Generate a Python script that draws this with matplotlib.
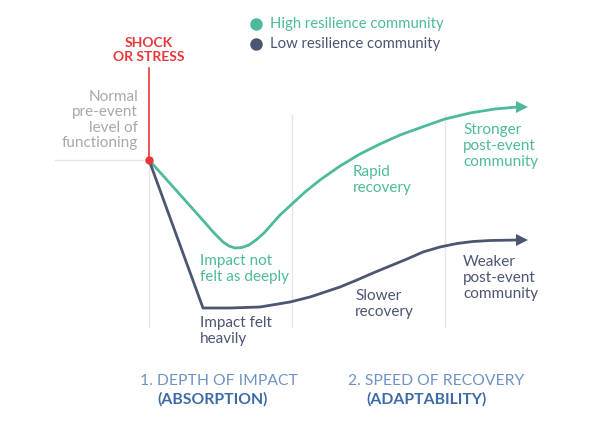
import matplotlib
matplotlib.use('Agg')
import matplotlib.pyplot as plt

# conceptual axes: time (left -> right) and functioning level (top = better)
high_t = [149, 175, 200, 215, 223, 229, 235, 242, 249, 256, 264, 272, 280, 292, 305,
          320, 340, 360, 380, 400, 425, 445, 470, 495, 518]
high_lvl = [160, 189, 217, 234, 242, 246, 248, 247.5, 245, 240, 233, 224, 215, 204, 192,
            180, 166, 154, 144, 135, 126, 119, 113, 109, 107]

low_t = [149, 203, 230, 260, 290, 310, 325, 340, 357, 373, 390, 407, 423, 440, 457,
         473, 490, 518]
low_lvl = [160, 308, 308, 307, 302, 297, 292, 287, 280, 273, 266, 259, 252, 247, 243.5,
           241.5, 240.5, 240]

event_t = 149
baseline_lvl = 160
phase_bounds = [149, 292, 445]

TEAL = '#4dba9c'
DARK = '#4b5671'
RED = '#e8363a'
GREY_TXT = '#a8a8a8'
GRID = '#e6e6e6'
BLUE_LIGHT = '#6f93c4'
BLUE = '#3d6aa6'

plt.rcParams['font.family'] = ['Lato', 'DejaVu Sans']

fig = plt.figure(figsize=(6.03, 4.32), dpi=100)
ax = fig.add_axes([0, 0, 1, 1])
ax.set_xlim(0, 603)
ax.set_ylim(432, 0)
ax.axis('off')

# guide lines
ax.plot([55, event_t], [baseline_lvl, baseline_lvl], color=GRID, lw=1, zorder=1)
ax.plot([phase_bounds[0]] * 2, [baseline_lvl, 327], color=GRID, lw=1, zorder=1)
for b in phase_bounds[1:]:
    ax.plot([b, b], [115, 327], color=GRID, lw=1, zorder=1)

# shock marker
ax.plot([event_t, event_t], [68, baseline_lvl], color=RED, lw=1.2, zorder=2)

# curves
ax.plot(high_t, high_lvl, color=TEAL, lw=2, solid_capstyle='round',
        solid_joinstyle='round', zorder=3)
ax.plot(low_t, low_lvl, color=DARK, lw=2, solid_capstyle='round',
        solid_joinstyle='round', zorder=3)
ax.plot(high_t[-1] + 4, high_lvl[-1], marker='>', color=TEAL, ms=8, mew=0, zorder=4)
ax.plot(low_t[-1] + 4, low_lvl[-1], marker='>', color=DARK, ms=8, mew=0, zorder=4)
ax.plot(event_t, baseline_lvl, 'o', color=RED, ms=6, mew=0, zorder=5)

# legend
ax.plot(256, 24, 'o', color=TEAL, ms=9, mew=0)
ax.plot(256, 44, 'o', color=DARK, ms=9, mew=0)
ax.text(270, 24, 'High resilience community', color=TEAL, fontsize=10.7, va='center')
ax.text(270, 44, 'Low resilience community', color=DARK, fontsize=10.7, va='center')

fs = 11
ls = 1.15
ax.text(event_t, 50, 'SHOCK\nOR STRESS', color=RED, fontsize=10, fontweight='bold',
        ha='center', va='center', linespacing=1.25)
ax.text(138, 120, 'Normal\npre-event\nlevel of\nfunctioning', color=GREY_TXT, fontsize=fs,
        ha='right', va='center', linespacing=ls)
ax.text(353, 180, 'Rapid\nrecovery', color=TEAL, fontsize=fs, va='center', linespacing=ls)
ax.text(463, 146, 'Stronger\npost-event\ncommunity', color=TEAL, fontsize=fs,
        va='center', linespacing=ls)
ax.text(200, 269, 'Impact not\nfelt as deeply', color=TEAL, fontsize=fs, va='center',
        linespacing=ls)
ax.text(200, 331, 'Impact felt\nheavily', color=DARK, fontsize=fs, va='center',
        linespacing=ls)
ax.text(355, 304, 'Slower\nrecovery', color=DARK, fontsize=fs, va='center', linespacing=ls)
ax.text(463, 278, 'Weaker\npost-event\ncommunity', color=DARK, fontsize=fs, va='center',
        linespacing=ls)

ax.text(140, 381, '1. DEPTH OF IMPACT', color=BLUE_LIGHT, fontsize=11.3, va='center')
ax.text(157, 399, '(ABSORPTION)', color=BLUE, fontsize=11.3, fontweight='bold', va='center')
ax.text(348, 381, '2. SPEED OF RECOVERY', color=BLUE_LIGHT, fontsize=11.3, va='center')
ax.text(366, 399, '(ADAPTABILITY)', color=BLUE, fontsize=11.3, fontweight='bold',
        va='center')

fig.savefig('out.png', dpi=100, facecolor='white')
